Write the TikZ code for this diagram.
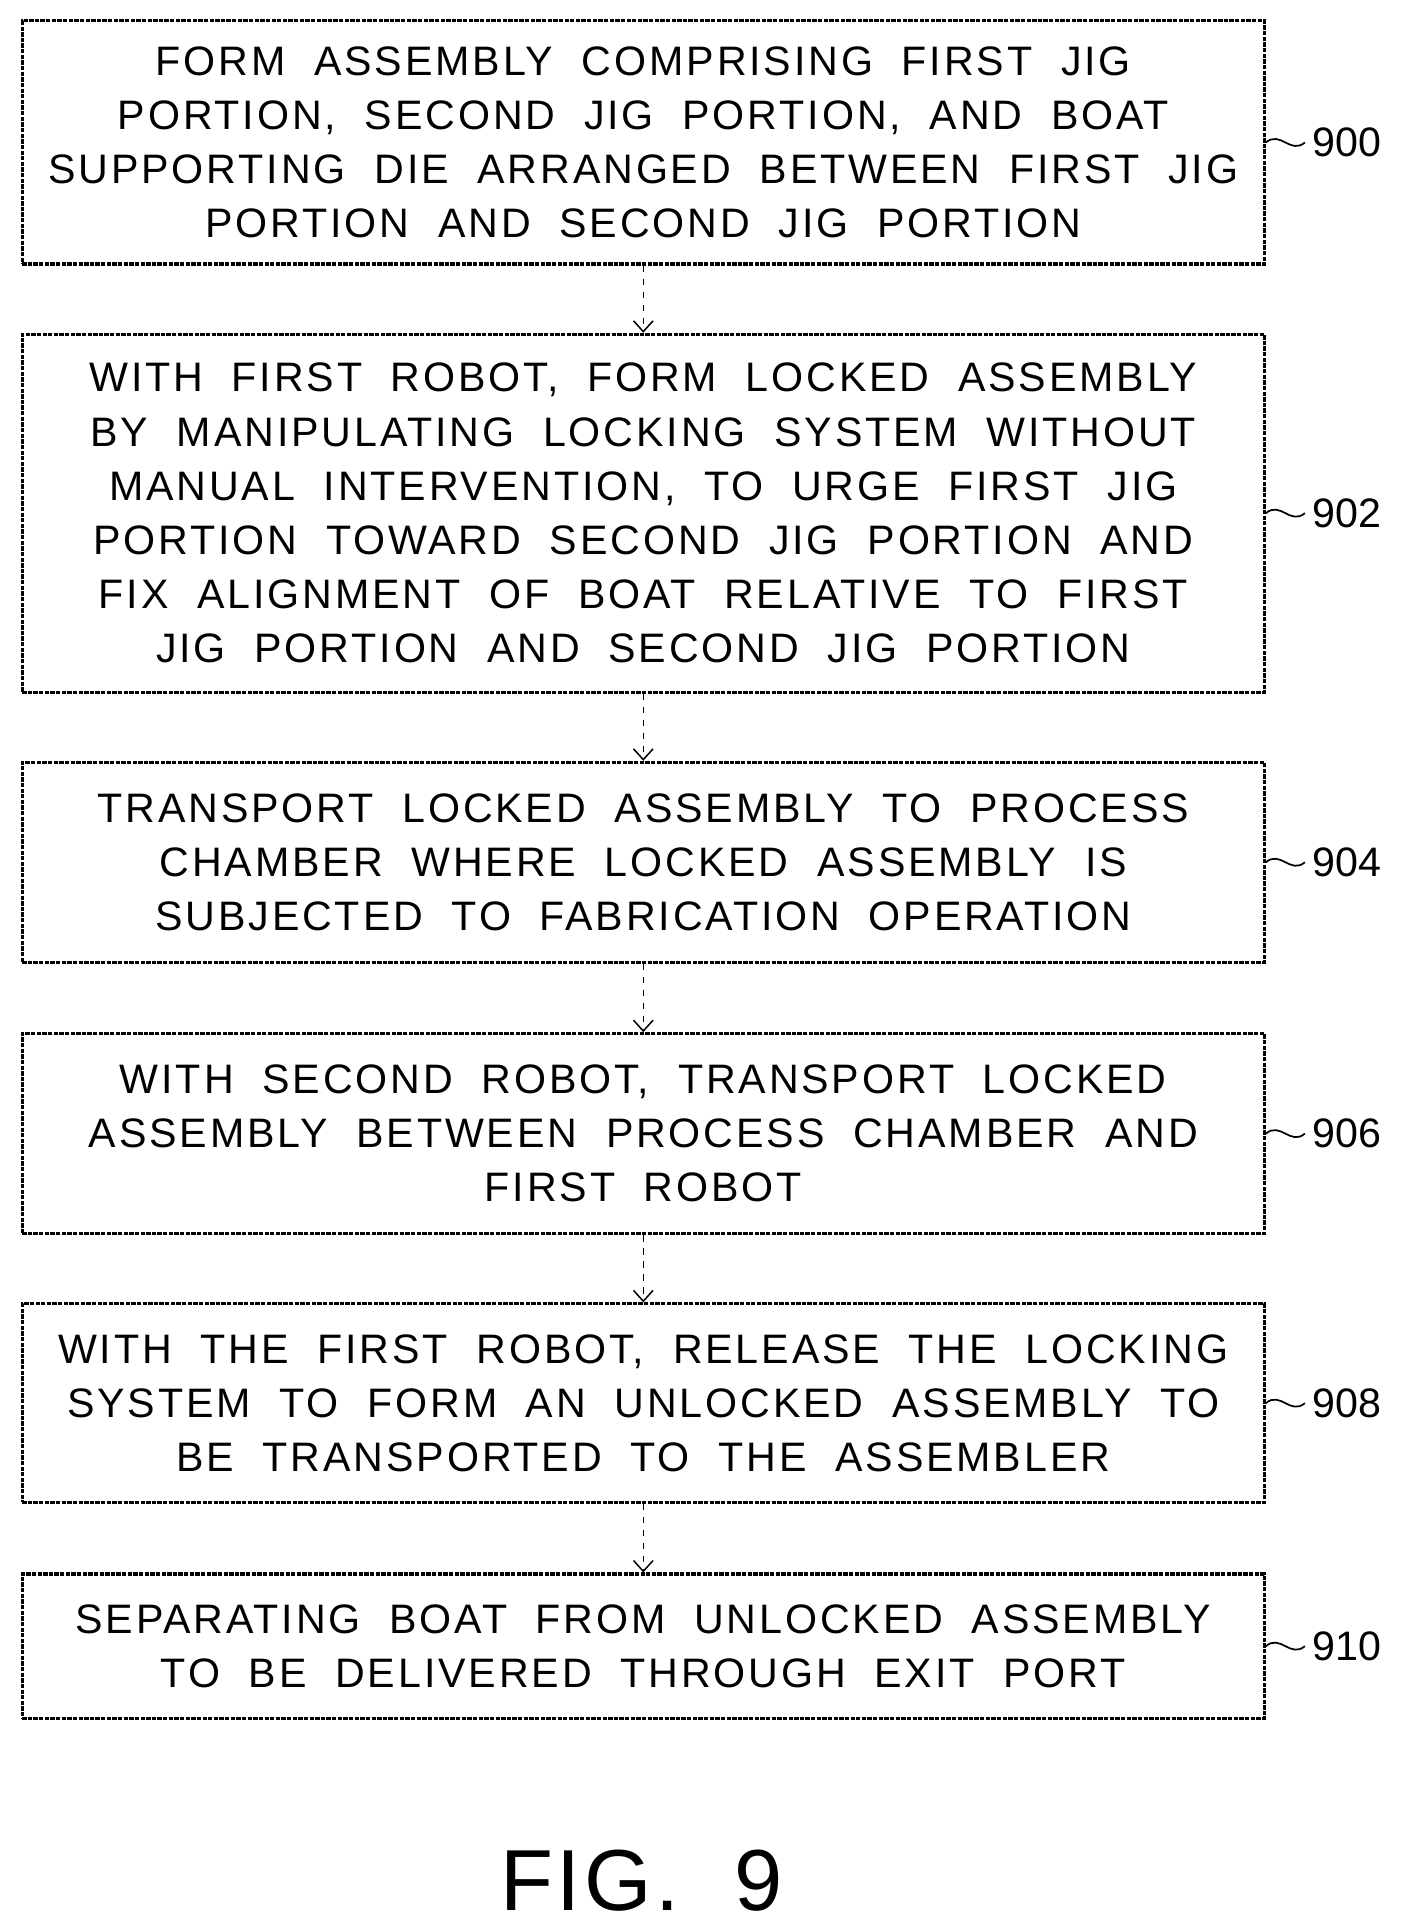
\documentclass[tikz,border=0pt]{standalone}
\usepackage{fontspec}
\setmainfont{Liberation Sans}[LetterSpace=7,WordSpace=2]
\usetikzlibrary{positioning, arrows.meta}

\begin{document}
\begin{tikzpicture}[x=0.02cm, y=-0.02cm,
  stepbox/.style={draw, line width=1.4pt, dash pattern=on 2pt off 0.6pt, minimum width=1007*0.02cm, align=center,
    font=\fontsize{19}{25}\selectfont, inner sep=0pt},
  flow/.style={dashed, line width=0.7pt, -{Straight Barb[length=5pt, width=9pt]}},
  tag/.style={font=\fontsize{19}{22}\selectfont\addfontfeature{LetterSpace=0}, anchor=west}]
\useasboundingbox (0,0) rectangle (1140,1563);
% steps
\node[stepbox, minimum height=197*0.02cm] (s900) at (521.5,115.5)
  {FORM ASSEMBLY COMPRISING FIRST JIG\\PORTION, SECOND JIG PORTION, AND BOAT\\SUPPORTING DIE ARRANGED BETWEEN FIRST JIG\\PORTION AND SECOND JIG PORTION};
\node[stepbox, minimum height=290*0.02cm] (s902) at (521.5,416)
  {WITH FIRST ROBOT, FORM LOCKED ASSEMBLY\\BY MANIPULATING LOCKING SYSTEM WITHOUT\\MANUAL INTERVENTION, TO URGE FIRST JIG\\PORTION TOWARD SECOND JIG PORTION AND\\FIX ALIGNMENT OF BOAT RELATIVE TO FIRST\\JIG PORTION AND SECOND JIG PORTION};
\node[stepbox, minimum height=162*0.02cm] (s904) at (521.5,699)
  {TRANSPORT LOCKED ASSEMBLY TO PROCESS\\CHAMBER WHERE LOCKED ASSEMBLY IS\\SUBJECTED TO FABRICATION OPERATION};
\node[stepbox, minimum height=162*0.02cm] (s906) at (521.5,919)
  {WITH SECOND ROBOT, TRANSPORT LOCKED\\ASSEMBLY BETWEEN PROCESS CHAMBER AND\\FIRST ROBOT};
\node[stepbox, minimum height=161*0.02cm] (s908) at (521.5,1137.5)
  {WITH THE FIRST ROBOT, RELEASE THE LOCKING\\SYSTEM TO FORM AN UNLOCKED ASSEMBLY TO\\BE TRANSPORTED TO THE ASSEMBLER};
\node[stepbox, minimum height=117*0.02cm] (s910) at (521.5,1334.5)
  {SEPARATING BOAT FROM UNLOCKED ASSEMBLY\\TO BE DELIVERED THROUGH EXIT PORT};

\foreach \a/\b in {s900/s902, s902/s904, s904/s906, s906/s908, s908/s910}
  \draw[flow] (\a) -- (\b);

% reference numerals
\foreach \s in {900, 902, 904, 906, 908, 910} {
  \node[tag, right=18pt of s\s.east] (n\s) {\s};
  \draw[line width=0.8pt] (s\s.east) .. controls +(12,-10) and +(-12,10) .. (n\s.west);
}

\node[font=\fontsize{40}{44}\selectfont\addfontfeature{LetterSpace=4}] (fig) at (520,1525) {FIG. 9};
\end{tikzpicture}
\end{document}
